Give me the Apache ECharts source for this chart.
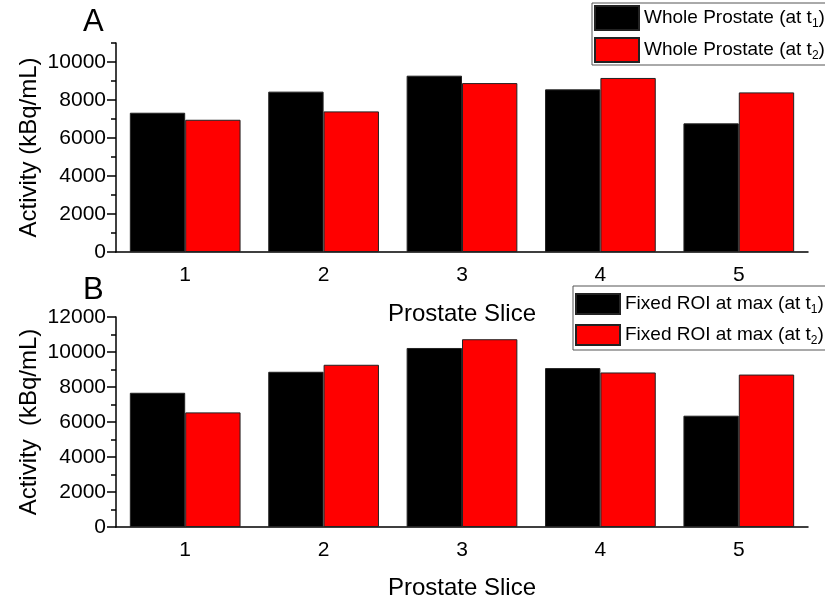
<!DOCTYPE html>
<html>
<head>
<meta charset="utf-8">
<script src="https://cdn.jsdelivr.net/npm/echarts@6/dist/echarts.min.js"></script>
<style>
  html, body { margin: 0; padding: 0; background: #fff; }
  #chart { width: 825px; height: 604px; }
</style>
</head>
<body>
<div id="chart"></div>
<script>
// values
const slices = ['1', '2', '3', '4', '5']
const wholeT1 = [7330, 8440, 9280, 8560, 6770]
const wholeT2 = [6960, 7400, 8890, 9160, 8400]
const roiT1 = [7670, 8870, 10230, 9080, 6360]
const roiT2 = [6550, 9270, 10730, 8830, 8710]
const yMaxA = 11000
const yMaxB = 12000
const yStep = 2000
const yMinorStep = 1000

const FONT = 'Liberation Sans, Arial, sans-serif'

const chart = echarts.init(document.getElementById('chart'))

function xAxes(gridIndex, nameGap) {
  return [
    {
      type: 'category', gridIndex, data: slices,
      name: 'Prostate Slice', nameLocation: 'middle', nameGap, nameMoveOverlap: false,
      nameTextStyle: { fontSize: 24, color: '#000', fontFamily: FONT },
      axisLine: { lineStyle: { color: '#000', width: 1.5 } },
      axisTick: { alignWithLabel: true, length: 8, lineStyle: { color: '#000', width: 1.5 } },
      axisLabel: { fontSize: 21, color: '#000', fontFamily: FONT, margin: 13 },
      splitLine: { show: false },
    },
    {
      // boundary ticks between slices
      type: 'category', gridIndex, data: slices, position: 'bottom',
      axisLine: { show: false },
      axisTick: { length: 5, lineStyle: { color: '#000', width: 1.5 } },
      axisLabel: { show: false },
      splitLine: { show: false },
    },
  ]
}

function yAxes(gridIndex, max, name) {
  return [
    {
      type: 'value', gridIndex, position: 'left', min: 0, max, interval: yStep,
      name, nameLocation: 'middle', nameGap: 75, nameMoveOverlap: false,
      nameTextStyle: { fontSize: 24, color: '#000', fontFamily: FONT },
      axisLine: { show: true, lineStyle: { color: '#000', width: 1.5 } },
      axisTick: { show: true, length: 9, lineStyle: { color: '#000', width: 1.5 } },
      axisLabel: {
        fontSize: 21, color: '#000', fontFamily: FONT, margin: 10,
        showMaxLabel: max % yStep === 0, formatter: (v) => String(v),
      },
      splitLine: { show: false },
    },
    {
      // minor ticks every 1000
      type: 'value', gridIndex, position: 'left', offset: 0, min: 0, max, interval: yMinorStep,
      axisLine: { show: false },
      axisTick: { show: true, length: 5, lineStyle: { color: '#000', width: 1.5 } },
      axisLabel: { show: false },
      splitLine: { show: false },
    },
  ]
}

function bar(name, data, color, axisOffset) {
  return {
    type: 'bar', name, data,
    xAxisIndex: axisOffset, yAxisIndex: axisOffset,
    barGap: '0%', barCategoryGap: '20%',
    itemStyle: { color, borderColor: '#222', borderWidth: 1 },
    emphasis: { disabled: true },
  }
}

function legend(left, top, itemHeight, itemGap, padding, names) {
  return {
    data: names, orient: 'vertical', left, top,
    itemWidth: 44, itemHeight, itemGap, padding,
    borderColor: '#555', borderWidth: 1, backgroundColor: '#fff',
    icon: 'rect', selectedMode: false,
    formatter: (n) => n.replace(/t(\d)\)$/, 't{sub|$1})'),
    textStyle: {
      fontSize: 19, color: '#000', fontFamily: FONT, lineHeight: 24,
      rich: { sub: { fontSize: 12, lineHeight: 12, verticalAlign: 'bottom', fontFamily: FONT, color: '#000' } },
    },
  }
}

chart.setOption({
  animation: false,
  title: [
    { text: 'A', left: 78, top: 2, textStyle: { fontSize: 31, fontWeight: 'normal', color: '#000', fontFamily: FONT } },
    { text: 'B', left: 78, top: 270, textStyle: { fontSize: 31, fontWeight: 'normal', color: '#000', fontFamily: FONT } },
  ],
  legend: [
    legend(592, 3, 24, 6, [2, 3, 2, 2], ['Whole Prostate (at t1)', 'Whole Prostate (at t2)']),
    legend(573, 286, 20, 7, [6, 3, 3, 2], ['Fixed ROI at max (at t1)', 'Fixed ROI at max (at t2)']),
  ],
  grid: [
    { left: 116, right: 17, top: 43, height: 209 },
    { left: 116, right: 17, top: 317, height: 210 },
  ],
  xAxis: [...xAxes(0, 50), ...xAxes(1, 49)],
  yAxis: [...yAxes(0, yMaxA, 'Activity (kBq/mL)'), ...yAxes(1, yMaxB, 'Activity  (kBq/mL)')],
  series: [
    bar('Whole Prostate (at t1)', wholeT1, '#000000', 0),
    bar('Whole Prostate (at t2)', wholeT2, '#ff0000', 0),
    bar('Fixed ROI at max (at t1)', roiT1, '#000000', 2),
    bar('Fixed ROI at max (at t2)', roiT2, '#ff0000', 2),
  ],
})
</script>
</body>
</html>
